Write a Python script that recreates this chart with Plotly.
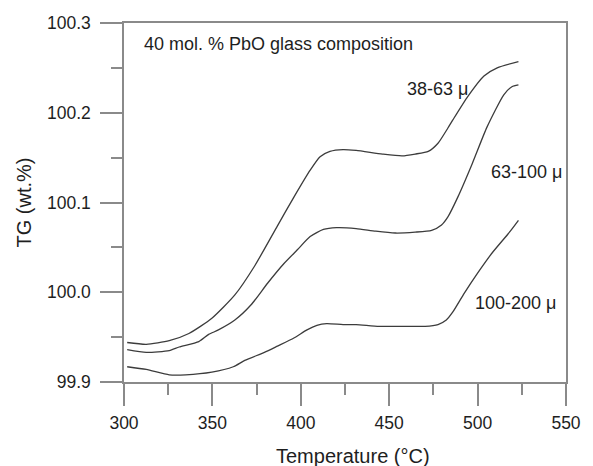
import plotly.graph_objects as go

# Thermogravimetric traces for three particle-size fractions
temp_38_63 = [301.8, 312.6, 325.6, 336.7, 349.7, 362.7, 373.8, 386.8, 396.1, 405.3,
              410.9, 416.5, 423.9, 431.3, 446.2, 457.3, 464.7, 472.1, 477.6, 483.2,
              486.0, 494.4, 503.6, 511.1, 523.1]
tg_38_63 = [99.944, 99.942, 99.946, 99.954, 99.971, 99.997, 100.029, 100.074, 100.106, 100.136,
            100.151, 100.157, 100.159, 100.158, 100.154, 100.152, 100.154, 100.157, 100.166, 100.183,
            100.192, 100.218, 100.241, 100.250, 100.257]

temp_63_100 = [301.8, 312.6, 325.6, 331.2, 342.3, 347.9, 353.4, 362.7, 371.9, 381.2,
               390.5, 397.9, 405.3, 412.8, 420.2, 431.3, 442.4, 453.5, 464.7, 474.0,
               479.6, 483.2, 488.8, 496.9, 505.3, 514.8, 519.4, 523.1]
tg_63_100 = [99.936, 99.933, 99.935, 99.939, 99.945, 99.953, 99.958, 99.969, 99.986, 100.010,
             100.032, 100.047, 100.062, 100.070, 100.072, 100.071, 100.068, 100.066, 100.067, 100.069,
             100.075, 100.084, 100.106, 100.143, 100.184, 100.220, 100.229, 100.231]

temp_100_200 = [301.8, 312.6, 325.6, 334.9, 349.7, 361.8, 368.3, 379.4, 386.8, 396.1,
                403.5, 409.1, 414.6, 423.9, 431.3, 444.3, 462.9, 470.3, 477.6, 482.3,
                486.0, 492.5, 499.9, 508.3, 518.5, 523.1]
tg_100_200 = [99.917, 99.914, 99.908, 99.908, 99.911, 99.917, 99.924, 99.933, 99.940, 99.949,
              99.958, 99.963, 99.965, 99.964, 99.964, 99.962, 99.962, 99.962, 99.964, 99.969,
              99.978, 99.999, 100.021, 100.044, 100.068, 100.080]

x_ticks = [300, 350, 400, 450, 500, 550]
y_ticks = [99.9, 100.0, 100.1, 100.2, 100.3]

LINE = "#3c3c3c"
AXIS = "#8a8a8a"
TEXT = "#1e1e1e"
FONT = "Liberation Sans, Arial, Helvetica, sans-serif"

fig = go.Figure()
for xs, ys in [(temp_38_63, tg_38_63), (temp_63_100, tg_63_100), (temp_100_200, tg_100_200)]:
    fig.add_trace(go.Scatter(x=xs, y=ys, mode="lines",
                             line=dict(color=LINE, width=1.3, shape="spline", smoothing=0.6),
                             showlegend=False, hoverinfo="skip"))

labels = [
    ("40 mol. % PbO glass composition", 310.0, 100.277),
    ("38-63 \u03bc", 459.0, 100.226),
    ("63-100 \u03bc", 506.5, 100.134),
    ("100-200 \u03bc", 497.5, 99.988),
]
for text, lx, ly in labels:
    fig.add_annotation(x=lx, y=ly, xref="x", yref="y", text=text, showarrow=False,
                       xanchor="left", yanchor="middle",
                       font=dict(family=FONT, size=18, color=TEXT))

# x-axis title sits a little right of the plot centre
fig.add_annotation(x=0.517, y=-0.205, xref="paper", yref="paper",
                   text="Temperature (\u00b0C)", showarrow=False,
                   xanchor="center", yanchor="middle",
                   font=dict(family=FONT, size=20, color=TEXT))

axis_common = dict(
    showline=True, linecolor=AXIS, linewidth=1.5, mirror=True,
    showgrid=False, zeroline=False,
    ticks="outside", ticklen=22, tickwidth=1.5, tickcolor=AXIS,
    tickfont=dict(family=FONT, size=17.5, color=TEXT),
)

fig.update_xaxes(range=[300, 550], tickvals=x_ticks, ticklabelstandoff=2,
                 minor=dict(ticks="outside", ticklen=11, tickwidth=1.5, tickcolor=AXIS, dtick=25, tick0=300),
                 **axis_common)
fig.update_yaxes(range=[99.9, 100.3], tickvals=y_ticks, tickformat=".1f", ticklabelstandoff=6,
                 minor=dict(ticks="outside", ticklen=11, tickwidth=1.5, tickcolor=AXIS, dtick=0.05, tick0=99.9),
                 title=dict(text="TG (wt.%)", font=dict(family=FONT, size=20, color=TEXT), standoff=10),
                 **axis_common)

fig.update_layout(
    width=593, height=466,
    margin=dict(l=124, r=20, t=23, b=84),
    paper_bgcolor="white", plot_bgcolor="white",
)

fig.write_html("out.html")
